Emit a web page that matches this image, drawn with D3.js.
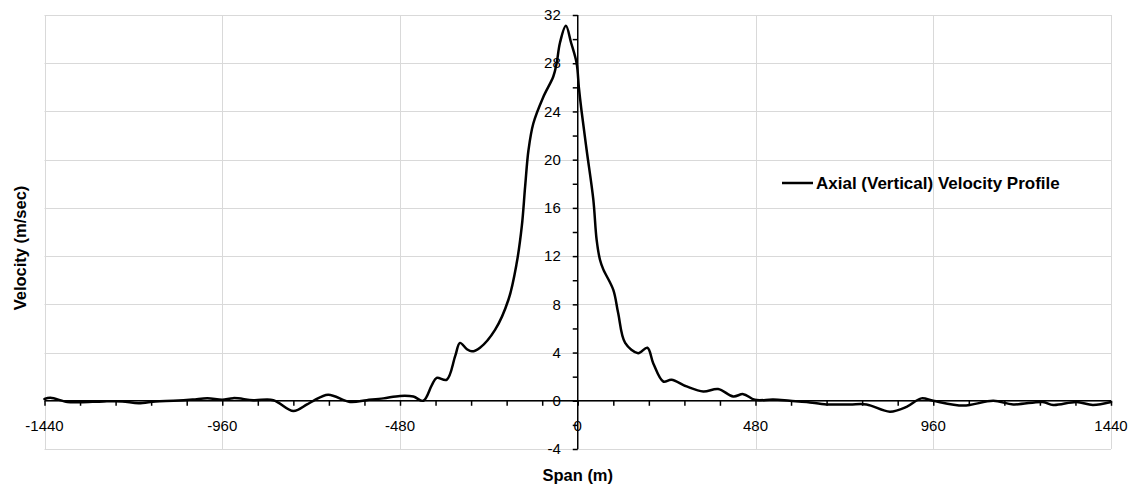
<!DOCTYPE html>
<html>
<head>
<meta charset="utf-8">
<script src="https://cdn.jsdelivr.net/npm/d3@7"></script>
<style>
  html, body { margin: 0; padding: 0; background: #fff; }
  svg { display: block; }
  text { font-family: "Liberation Sans", Arial, sans-serif; fill: #000; }
</style>
</head>
<body>
<svg id="chart" width="1140" height="487"></svg>
<script>
// Data
const spanX = [-1440, -1424, -1378, -1343, -1280, -1230, -1186, -1140, -1092, -1040, -1000, -960, -930, -876, -822, -768, -731, -714, -674, -615, -570, -525, -480, -444, -417, -394, -381, -354, -331, -318, -300, -286, -264, -223, -187, -165, -151, -142, -133, -120, -93, -66, -57, -48, -32, -18, -3, 3, 10, 24, 42, 51, 60, 69, 96, 109, 128, 163, 188, 204, 231, 253, 294, 339, 379, 420, 447, 478, 528, 573, 618, 672, 735, 780, 843, 888, 928, 960, 1041, 1122, 1176, 1256, 1284, 1347, 1391, 1440];
const velocity = [0.15, 0.25, -0.1, -0.12, -0.05, -0.05, -0.2, -0.05, 0, 0.1, 0.22, 0.08, 0.22, 0.05, 0.05, -0.85, -0.3, 0, 0.5, -0.1, 0.05, 0.2, 0.4, 0.35, 0, 1.3, 1.9, 1.74, 3.7, 4.8, 4.3, 4.1, 4.4, 5.9, 8.4, 11.4, 14.5, 17.8, 20.8, 23.0, 25.2, 26.9, 28.0, 29.7, 31.1, 29.7, 28.0, 26.0, 24.1, 20.8, 16.7, 13.35, 11.7, 10.9, 9.2, 7.3, 4.8, 3.95, 4.4, 3.1, 1.6, 1.75, 1.19, 0.77, 0.97, 0.36, 0.55, 0.08, 0.1, 0, -0.1, -0.3, -0.3, -0.3, -0.9, -0.5, 0.2, 0, -0.4, 0, -0.3, -0.1, -0.35, -0.1, -0.35, -0.1];
const xTickLabels = [-1440, -960, -480, 0, 480, 960, 1440];
const yTickLabels = [-4, 0, 4, 8, 12, 16, 20, 24, 28, 32];
const xGridValues = [-1440, -960, -480, 480, 960, 1440];
const seriesName = "Axial (Vertical) Velocity Profile";
const xTitle = "Span (m)";
const yTitle = "Velocity (m/sec)";

const svg = d3.select("#chart");
const x = d3.scaleLinear().domain([-1440, 1440]).range([44.5, 1111]);
const y = d3.scaleLinear().domain([-4, 32]).range([449, 15]);

// Gridlines
const grid = svg.append("g").attr("stroke", "#d9d9d9").attr("stroke-width", 1);
grid.selectAll("line.h").data(yTickLabels).join("line")
  .attr("x1", x(-1440)).attr("x2", x(1440))
  .attr("y1", d => Math.round(y(d)) + 0.5).attr("y2", d => Math.round(y(d)) + 0.5);
grid.selectAll("line.v").data(xGridValues).join("line")
  .attr("y1", y(32)).attr("y2", y(-4))
  .attr("x1", d => Math.round(x(d)) + 0.5).attr("x2", d => Math.round(x(d)) + 0.5);

// X axis at y=0
const xAxis = d3.axisBottom(x)
  .tickValues(d3.range(-1440, 1441, 96))
  .tickSize(5)
  .tickFormat("");
const gx = svg.append("g").attr("transform", `translate(0,${y(0)})`).call(xAxis);
gx.select(".domain").attr("stroke", "#000").attr("stroke-width", 1.5).attr("d", `M${x(-1440)},0H${x(1440)}`);
gx.selectAll(".tick line").attr("stroke", "#000").attr("stroke-width", 1.5);

svg.append("g").selectAll("text").data(xTickLabels).join("text")
  .attr("x", d => x(d)).attr("y", 431)
  .attr("text-anchor", "middle").attr("font-size", 15)
  .text(d => d);

// Y axis at x=0
const yAxis = d3.axisLeft(y)
  .tickValues(d3.range(-4, 33, 2))
  .tickSize(5)
  .tickFormat("");
const gy = svg.append("g").attr("transform", `translate(${x(0)},0)`).call(yAxis);
gy.select(".domain").attr("stroke", "#000").attr("stroke-width", 1.5).attr("d", `M0,${y(32)}V${y(-4)}`);
gy.selectAll(".tick line").attr("stroke", "#000").attr("stroke-width", 1.5);

svg.append("g").selectAll("text").data(yTickLabels).join("text")
  .attr("x", x(0) - 17).attr("y", d => y(d))
  .attr("dy", "0.35em")
  .attr("text-anchor", "end").attr("font-size", 15)
  .text(d => d);

// Series line
const line = d3.line()
  .x((d, i) => x(spanX[i]))
  .y((d, i) => y(velocity[i]))
  .curve(d3.curveCatmullRom.alpha(0.5));
svg.append("path")
  .datum(velocity)
  .attr("fill", "none").attr("stroke", "#000").attr("stroke-width", 2.5)
  .attr("stroke-linejoin", "round").attr("stroke-linecap", "round")
  .attr("d", line);

// Legend
svg.append("line").attr("x1", 782).attr("x2", 813).attr("y1", 183).attr("y2", 183)
  .attr("stroke", "#000").attr("stroke-width", 2.5);
svg.append("text").attr("x", 816).attr("y", 183).attr("dy", "0.35em")
  .attr("font-size", 17).attr("font-weight", "bold").text(seriesName);

// Axis titles
svg.append("text").attr("x", x(0)).attr("y", 475).attr("dy", "0.35em")
  .attr("text-anchor", "middle").attr("font-size", 16.5).attr("font-weight", "bold").text(xTitle);
svg.append("text").attr("transform", "translate(20,248) rotate(-90)").attr("dy", "0.35em")
  .attr("text-anchor", "middle").attr("font-size", 16.5).attr("font-weight", "bold").text(yTitle);
</script>
</body>
</html>
